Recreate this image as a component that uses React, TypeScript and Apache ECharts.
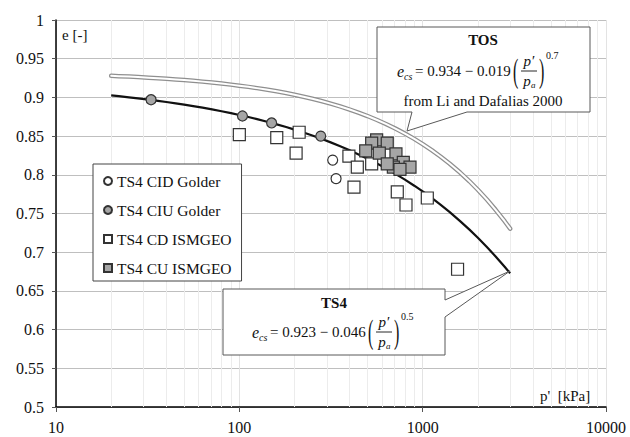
import React, { useEffect, useRef } from "react";
import * as echarts from "echarts";

// Reference pressure (kPa)
const PA = 101.325;

// Critical state line coefficients, as printed in the callouts
const TS4_E0 = 0.923;
const TS4_LAMBDA = 0.046;
const TS4_XI = 0.5;
const TOS_E0 = 0.934;
const TOS_LAMBDA = 0.019;
const TOS_XI = 0.7;

// Mean effective stresses at which the CSL curves are evaluated (kPa)
const curvePressures = [
  20, 22, 25, 28, 32, 36, 40, 45, 50, 56, 63, 71, 80, 90, 100, 112, 125, 140, 160, 180, 200,
  224, 250, 280, 315, 355, 400, 450, 500, 560, 630, 710, 800, 900, 1000, 1120, 1250, 1400,
  1600, 1800, 2000, 2240, 2500, 2800, 3000,
];

// Test data: p' (kPa) and void ratio e
const cidGolderP = [323, 337];
const cidGolderE = [0.819, 0.795];

const ciuGolderP = [33, 104, 150, 278];
const ciuGolderE = [0.897, 0.876, 0.867, 0.85];

const cdIsmgeoP = [100, 160, 204, 212, 396, 422, 440, 527, 727, 811, 1060, 1550];
const cdIsmgeoE = [0.852, 0.848, 0.828, 0.855, 0.824, 0.784, 0.81, 0.814, 0.778, 0.761, 0.77, 0.678];

const cuIsmgeoP = [561, 527, 641, 489, 580, 715, 784, 853, 692, 641, 752];
const cuIsmgeoE = [0.845, 0.841, 0.841, 0.831, 0.828, 0.827, 0.816, 0.81, 0.81, 0.814, 0.807];

// Axis settings
const xTickLabels = ["10", "100", "1000", "10000"];
const minorGridP = [
  20, 30, 40, 50, 60, 70, 80, 90, 200, 300, 400, 500, 600, 700, 800, 900, 2000, 3000, 4000, 5000,
  6000, 7000, 8000, 9000,
];

const SERIF = "Liberation Serif";

const zip = (xs: number[], ys: number[]) => xs.map((x, i) => [x, ys[i]]);
const csl = (e0: number, lambda: number, xi: number) =>
  curvePressures.map((p) => [p, e0 - lambda * Math.pow(p / PA, xi)]);

type Pt = [number, number];

const font = (size: number, style = "") => `${style ? style + " " : ""}${size}px ${SERIF}`;

function label(x: number, y: number, text: string, f: string, align = "left", extra: object = {}) {
  return {
    type: "text",
    x,
    y,
    z: 101,
    ...extra,
    style: { text, font: f, fill: "#111", textAlign: align, textVerticalAlign: "middle" },
  };
}

// Builds the e_cs = a − b (p'/p_a)^xi expression out of text pieces
function formula(x0: number, cy: number, a: string, b: string, xi: string) {
  return [
    label(x0, cy, "e", font(16, "italic")),
    label(x0 + 7, cy + 5, "cs", font(10, "italic")),
    label(x0 + 18, cy, `= ${a} − ${b}`, font(15)),
    label(x0 + 116, cy, "(", font(16), "left", { scaleY: 2.1 }),
    label(x0 + 132, cy - 10, "p′", font(15, "italic"), "center"),
    {
      type: "line",
      z: 101,
      shape: { x1: x0 + 124, y1: cy, x2: x0 + 140, y2: cy },
      style: { stroke: "#111", lineWidth: 0.9 },
    },
    label(x0 + 130, cy + 10, "p", font(15, "italic"), "center"),
    label(x0 + 134, cy + 14, "a", font(9, "italic")),
    label(x0 + 142, cy, ")", font(16), "left", { scaleY: 2.1 }),
    label(x0 + 149, cy - 16, xi, font(10)),
  ];
}

function callout(points: Pt[]) {
  return {
    type: "polygon",
    z: 100,
    shape: { points },
    style: { fill: "#fff", stroke: "#595959", lineWidth: 1 },
  };
}

export default function App() {
  const ref = useRef<HTMLDivElement>(null);

  useEffect(() => {
    if (!ref.current) return;
    const chart = echarts.init(ref.current, undefined, { renderer: "svg" });

    const scatterBase = {
      type: "scatter" as const,
      z: 5,
      itemStyle: { borderColor: "#333", borderWidth: 1.2, opacity: 1 },
    };

    chart.setOption({
      animation: false,
      backgroundColor: "#fff",
      textStyle: { fontFamily: SERIF },
      grid: { left: 56, right: 24, top: 20, bottom: 30, containLabel: false },
      xAxis: {
        type: "log",
        logBase: 10,
        min: 10,
        max: 10000,
        axisLine: { show: true, onZero: false, lineStyle: { color: "#000", width: 1.5 } },
        axisTick: { show: true, inside: false, length: 5, lineStyle: { color: "#555" } },
        axisLabel: {
          margin: 12,
          fontFamily: SERIF,
          fontSize: 16,
          color: "#111",
          formatter: (v: number) => xTickLabels[Math.round(Math.log10(v)) - 1] ?? "",
        },
        splitLine: { show: true, lineStyle: { color: "#e3e3e3", width: 1 } },
      },
      yAxis: {
        type: "value",
        min: 0.5,
        max: 1,
        interval: 0.05,
        axisLine: { show: true, onZero: false, lineStyle: { color: "#000", width: 1.5 } },
        axisTick: { show: true, inside: false, length: 4, lineStyle: { color: "#555" } },
        axisLabel: {
          margin: 12,
          fontFamily: SERIF,
          fontSize: 16,
          color: "#111",
          formatter: (v: number) => String(Math.round(v * 100) / 100),
        },
        splitLine: { show: true, lineStyle: { color: "#bfbfbf", width: 1 } },
      },
      legend: {
        orient: "vertical",
        left: 93,
        top: 164,
        z: 20,
        backgroundColor: "#fff",
        borderColor: "#444",
        borderWidth: 1,
        borderRadius: 0,
        padding: [9, 10, 5, 10],
        itemGap: 13,
        itemWidth: 8,
        itemHeight: 8,
        selectedMode: false,
        textStyle: { fontFamily: SERIF, fontSize: 15.5, color: "#111" },
        data: [
          { name: "TS4 CID Golder", icon: "circle" },
          { name: "TS4 CIU Golder", icon: "circle" },
          { name: "TS4 CD ISMGEO", icon: "rect" },
          { name: "TS4 CU ISMGEO", icon: "rect" },
        ],
      },
      series: [
        {
          // minor log grid lines
          type: "line",
          z: 1,
          silent: true,
          data: [[10, 0.5]],
          showSymbol: false,
          lineStyle: { opacity: 0 },
          markLine: {
            z: 1,
            silent: true,
            symbol: "none",
            label: { show: false },
            lineStyle: { color: "#ececec", width: 1, type: "solid" },
            data: minorGridP.map((p) => ({ xAxis: p })),
          },
        },
        {
          name: "TOS outline",
          type: "line",
          z: 2,
          silent: true,
          showSymbol: false,
          data: csl(TOS_E0, TOS_LAMBDA, TOS_XI),
          lineStyle: { color: "#8f8f8f", width: 4.5, cap: "round", join: "round" },
        },
        {
          name: "TOS core",
          type: "line",
          z: 3,
          silent: true,
          showSymbol: false,
          data: csl(TOS_E0, TOS_LAMBDA, TOS_XI),
          lineStyle: { color: "#fff", width: 2, cap: "round", join: "round" },
        },
        {
          name: "TS4 CSL",
          type: "line",
          z: 4,
          silent: true,
          showSymbol: false,
          data: csl(TS4_E0, TS4_LAMBDA, TS4_XI),
          lineStyle: { color: "#111", width: 2.2, join: "round" },
        },
        {
          ...scatterBase,
          name: "TS4 CID Golder",
          symbol: "circle",
          symbolSize: 10,
          data: zip(cidGolderP, cidGolderE),
          itemStyle: { ...scatterBase.itemStyle, color: "#fff" },
        },
        {
          ...scatterBase,
          name: "TS4 CIU Golder",
          symbol: "circle",
          symbolSize: 10,
          data: zip(ciuGolderP, ciuGolderE),
          itemStyle: { ...scatterBase.itemStyle, color: "#a6a6a6" },
        },
        {
          ...scatterBase,
          name: "TS4 CD ISMGEO",
          symbol: "rect",
          symbolSize: 12,
          data: zip(cdIsmgeoP, cdIsmgeoE),
          itemStyle: { ...scatterBase.itemStyle, color: "#fff" },
        },
        {
          ...scatterBase,
          name: "TS4 CU ISMGEO",
          symbol: "rect",
          symbolSize: 12,
          data: zip(cuIsmgeoP, cuIsmgeoE),
          itemStyle: { ...scatterBase.itemStyle, color: "#a6a6a6" },
        },
      ],
      graphic: [
        label(62, 35, "e [-]", font(15)),
        label(540, 396, "p'  [kPa]", font(15)),
        // TOS callout
        callout([
          [377, 27],
          [590, 27],
          [590, 112],
          [467, 112],
          [407, 131],
          [412, 112],
          [377, 112],
        ]),
        label(483, 40, "TOS", font(15, "bold"), "center"),
        ...formula(397, 71, "0.934", "0.019", "0.7"),
        label(483, 101, "from Li and Dafalias 2000", font(15), "center"),
        // TS4 callout
        callout([
          [223, 289],
          [445, 289],
          [445, 300],
          [510, 271],
          [445, 317],
          [445, 355],
          [223, 355],
        ]),
        label(334, 303, "TS4", font(15, "bold"), "center"),
        ...formula(252, 332, "0.923", "0.046", "0.5"),
      ],
    });

    return () => chart.dispose();
  }, []);

  return (
    <div
      ref={ref}
      style={{ position: "fixed", left: 0, top: 0, width: 630, height: 437, background: "#fff" }}
    />
  );
}
